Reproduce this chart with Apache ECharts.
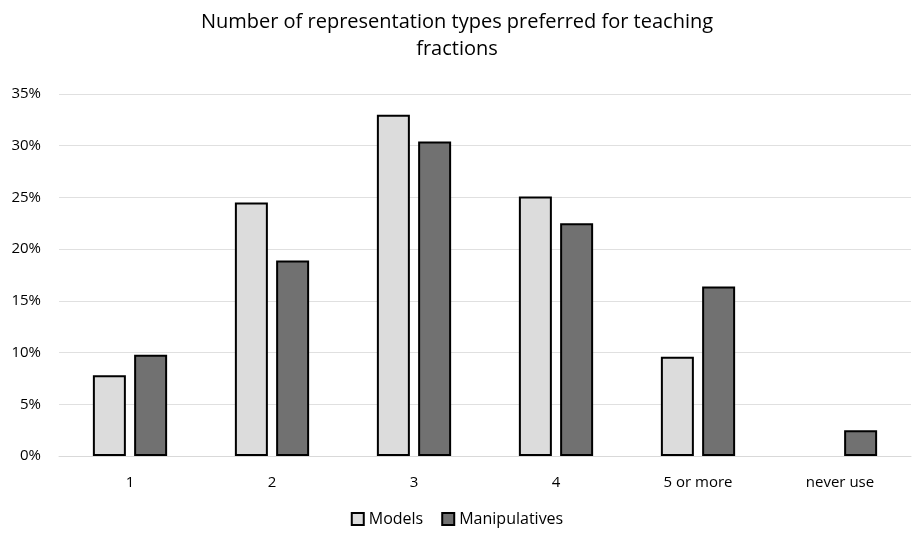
<!DOCTYPE html>
<html>
<head>
<meta charset="utf-8">
<script src="https://cdn.jsdelivr.net/npm/echarts@6/dist/echarts.min.js"></script>
<style>
  html, body { margin: 0; padding: 0; background: #fff; }
  #chart { width: 914px; height: 534px; }
</style>
</head>
<body>
<div id="chart"></div>
<script>
// Share of respondents by number of representation types preferred
const categories = ['1', '2', '3', '4', '5 or more', 'never use'];
const models = [7.8, 24.5, 33.0, 25.1, 9.6, 0];
const manipulatives = [9.8, 18.9, 30.4, 22.5, 16.4, 2.5];
const yTicks = [0, 5, 10, 15, 20, 25, 30, 35];

const FONT = 'Open Sans';
const chart = echarts.init(document.getElementById('chart'));

// Zero-height bars get no outline, so an empty category stays empty
const toBarData = arr => arr.map(v => (
  v === 0 ? { value: v, itemStyle: { borderWidth: 0, opacity: 0 } } : v
));

chart.setOption({
  backgroundColor: '#ffffff',
  animation: false,
  title: {
    text: 'Number of representation types preferred for teaching\nfractions',
    left: 'center',
    top: 4,
    textStyle: {
      fontFamily: FONT,
      fontSize: 20,
      fontWeight: 'normal',
      color: '#000000',
      lineHeight: 27
    }
  },
  legend: {
    bottom: 2,
    left: 'center',
    itemWidth: 12,
    itemHeight: 12,
    itemGap: 18,
    icon: 'rect',
    textStyle: { fontFamily: FONT, fontSize: 16, color: '#000000' },
    data: ['Models', 'Manipulatives']
  },
  grid: { left: 59, right: 3, top: 94, bottom: 78 },
  xAxis: {
    type: 'category',
    data: categories,
    axisTick: { show: false },
    axisLine: { lineStyle: { color: '#d9d9d9', width: 1 } },
    axisLabel: { fontFamily: FONT, fontSize: 15, color: '#000000', margin: 19 }
  },
  yAxis: {
    type: 'value',
    min: yTicks[0],
    max: yTicks[yTicks.length - 1],
    interval: 5,
    axisLine: { show: false },
    axisTick: { show: false },
    splitLine: { lineStyle: { color: '#e0e0e0', width: 1 } },
    axisLabel: {
      fontFamily: FONT, fontSize: 15, color: '#000000', margin: 18,
      formatter: v => v + '%'
    }
  },
  series: [
    {
      name: 'Models',
      type: 'bar',
      data: toBarData(models),
      barWidth: 33,
      barGap: '25%',
      itemStyle: { color: '#dcdcdc', borderColor: '#000000', borderWidth: 2 }
    },
    {
      name: 'Manipulatives',
      type: 'bar',
      data: toBarData(manipulatives),
      barWidth: 33,
      barGap: '25%',
      itemStyle: { color: '#717171', borderColor: '#000000', borderWidth: 2 }
    }
  ]
});
</script>
</body>
</html>
